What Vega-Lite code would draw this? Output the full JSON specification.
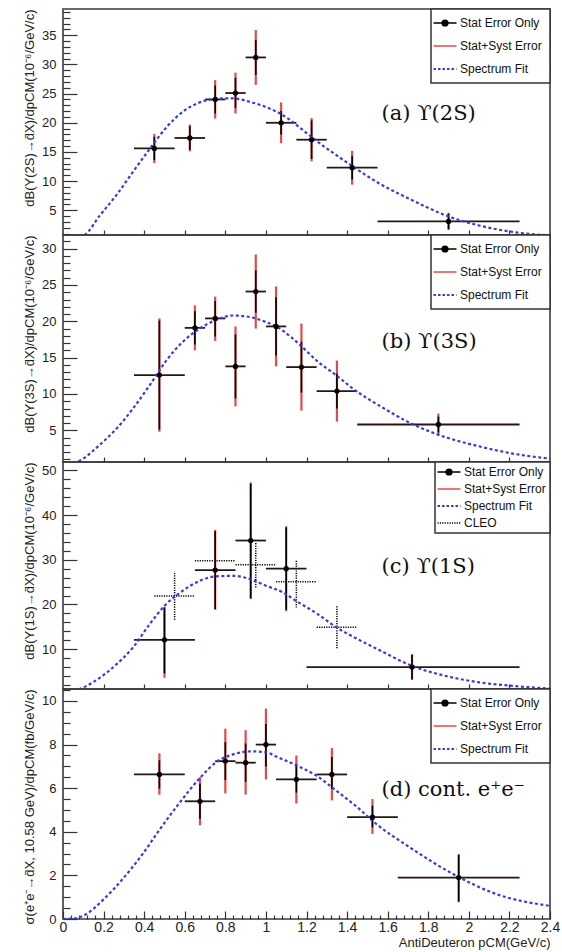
{
  "$schema": "https://vega.github.io/schema/vega-lite/v6.json",
  "background": "white",
  "padding": {"left": 22, "top": 7, "right": 11, "bottom": 0},
  "spacing": 0,
  "bounds": "flush",
  "config": {
    "view": {"stroke": "#3a3a3a", "strokeWidth": 1.6},
    "axis": {"grid": false, "domain": false, "labelFont": "Liberation Sans", "titleFont": "Liberation Sans", "labelColor": "#222", "titleColor": "#222", "tickColor": "#333", "tickWidth": 1.2, "titleFontWeight": "normal", "labelFontSize": 13, "titleFontSize": 13, "labelOverlap": false, "labelFlush": false}
  },
  "resolve": {"scale": {"stroke": "independent"}, "legend": {"stroke": "independent"}},
  "datasets": {
    "a_pts": [
      {"x": 0.45, "xlo": 0.35, "xhi": 0.55, "y": 15.6, "stat_lo": 13.6, "stat_hi": 17.6, "tot_lo": 13.1, "tot_hi": 18.1},
      {"x": 0.625, "xlo": 0.55, "xhi": 0.7, "y": 17.4, "stat_lo": 15.4, "stat_hi": 19.4, "tot_lo": 15.1, "tot_hi": 19.7},
      {"x": 0.75, "xlo": 0.7, "xhi": 0.8, "y": 24.0, "stat_lo": 21.6, "stat_hi": 26.4, "tot_lo": 20.7, "tot_hi": 27.3},
      {"x": 0.85, "xlo": 0.8, "xhi": 0.9, "y": 25.1, "stat_lo": 22.5, "stat_hi": 27.7, "tot_lo": 21.6, "tot_hi": 28.6},
      {"x": 0.95, "xlo": 0.9, "xhi": 1.0, "y": 31.2, "stat_lo": 28.2, "stat_hi": 34.2, "tot_lo": 26.5, "tot_hi": 35.9},
      {"x": 1.075, "xlo": 1.0, "xhi": 1.15, "y": 20.0, "stat_lo": 18.0, "stat_hi": 22.0, "tot_lo": 16.5, "tot_hi": 23.5},
      {"x": 1.225, "xlo": 1.15, "xhi": 1.3, "y": 17.1, "stat_lo": 13.8, "stat_hi": 20.4, "tot_lo": 13.4, "tot_hi": 20.8},
      {"x": 1.425, "xlo": 1.3, "xhi": 1.55, "y": 12.3, "stat_lo": 10.3, "stat_hi": 14.3, "tot_lo": 9.4, "tot_hi": 15.2},
      {"x": 1.9, "xlo": 1.55, "xhi": 2.25, "y": 3.1, "stat_lo": 1.8, "stat_hi": 4.4, "tot_lo": 1.6, "tot_hi": 4.6}
    ],
    "a_fit": [
      {"x": 0, "y": 0}, {"x": 0.05, "y": 0.2}, {"x": 0.107, "y": 0.8}, {"x": 0.181, "y": 4.1}, {"x": 0.263, "y": 7.6}, {"x": 0.345, "y": 11.6}, {"x": 0.427, "y": 15.5}, {"x": 0.509, "y": 19.2}, {"x": 0.591, "y": 21.9}, {"x": 0.674, "y": 23.5}, {"x": 0.755, "y": 24.1}, {"x": 0.83, "y": 24.2}, {"x": 0.92, "y": 23.6}, {"x": 1.0, "y": 22.7}, {"x": 1.084, "y": 21.3}, {"x": 1.166, "y": 19.2}, {"x": 1.231, "y": 17.4}, {"x": 1.395, "y": 13.3}, {"x": 1.559, "y": 9.6}, {"x": 1.723, "y": 6.7}, {"x": 1.888, "y": 4.1}, {"x": 2.05, "y": 2.4}, {"x": 2.216, "y": 1.3}, {"x": 2.4, "y": 0.7}
    ],
    "b_pts": [
      {"x": 0.475, "xlo": 0.35, "xhi": 0.6, "y": 12.6, "stat_lo": 5.1, "stat_hi": 20.1, "tot_lo": 4.8, "tot_hi": 20.4},
      {"x": 0.65, "xlo": 0.6, "xhi": 0.7, "y": 19.1, "stat_lo": 16.8, "stat_hi": 21.4, "tot_lo": 16.0, "tot_hi": 22.2},
      {"x": 0.75, "xlo": 0.7, "xhi": 0.8, "y": 20.4, "stat_lo": 17.9, "stat_hi": 22.8, "tot_lo": 17.3, "tot_hi": 23.4},
      {"x": 0.85, "xlo": 0.8, "xhi": 0.9, "y": 13.8, "stat_lo": 9.4, "stat_hi": 18.2, "tot_lo": 8.3, "tot_hi": 19.3},
      {"x": 0.95, "xlo": 0.9, "xhi": 1.0, "y": 24.1, "stat_lo": 21.2, "stat_hi": 27.0, "tot_lo": 19.0, "tot_hi": 29.2},
      {"x": 1.05, "xlo": 1.0, "xhi": 1.1, "y": 19.3, "stat_lo": 15.3, "stat_hi": 23.3, "tot_lo": 13.8, "tot_hi": 24.8},
      {"x": 1.175, "xlo": 1.1, "xhi": 1.25, "y": 13.7, "stat_lo": 10.2, "stat_hi": 17.2, "tot_lo": 7.7, "tot_hi": 19.7},
      {"x": 1.35, "xlo": 1.25, "xhi": 1.45, "y": 10.4, "stat_lo": 8.0, "stat_hi": 12.8, "tot_lo": 6.2, "tot_hi": 14.6},
      {"x": 1.85, "xlo": 1.45, "xhi": 2.25, "y": 5.8, "stat_lo": 4.7, "stat_hi": 6.9, "tot_lo": 4.3, "tot_hi": 7.3}
    ],
    "b_fit": [
      {"x": 0, "y": 0}, {"x": 0.082, "y": 0.8}, {"x": 0.181, "y": 3.0}, {"x": 0.263, "y": 5.2}, {"x": 0.345, "y": 8.0}, {"x": 0.427, "y": 11.2}, {"x": 0.509, "y": 14.6}, {"x": 0.591, "y": 17.2}, {"x": 0.674, "y": 19.0}, {"x": 0.755, "y": 20.2}, {"x": 0.838, "y": 20.8}, {"x": 0.92, "y": 20.6}, {"x": 1.0, "y": 19.9}, {"x": 1.05, "y": 19.3}, {"x": 1.084, "y": 18.7}, {"x": 1.166, "y": 16.8}, {"x": 1.25, "y": 14.6}, {"x": 1.35, "y": 12.5}, {"x": 1.445, "y": 10.4}, {"x": 1.559, "y": 8.4}, {"x": 1.69, "y": 6.3}, {"x": 1.849, "y": 4.4}, {"x": 2.05, "y": 2.8}, {"x": 2.216, "y": 1.8}, {"x": 2.4, "y": 1.1}
    ],
    "c_pts": [
      {"x": 0.5, "xlo": 0.35, "xhi": 0.65, "y": 12.1, "stat_lo": 4.6, "stat_hi": 19.3, "tot_lo": 3.6, "tot_hi": 19.5},
      {"x": 0.75, "xlo": 0.65, "xhi": 0.85, "y": 27.7, "stat_lo": 19.0, "stat_hi": 36.4, "tot_lo": 18.8, "tot_hi": 36.7},
      {"x": 0.925, "xlo": 0.85, "xhi": 1.0, "y": 34.3, "stat_lo": 21.4, "stat_hi": 47.0, "tot_lo": 21.2, "tot_hi": 47.3},
      {"x": 1.1, "xlo": 1.0, "xhi": 1.2, "y": 28.0, "stat_lo": 18.8, "stat_hi": 37.2, "tot_lo": 18.5, "tot_hi": 37.5},
      {"x": 1.72, "xlo": 1.2, "xhi": 2.25, "y": 6.0, "stat_lo": 3.3, "stat_hi": 8.7, "tot_lo": 3.1, "tot_hi": 8.9}
    ],
    "c_cleo": [
      {"x": 0.55, "xlo": 0.45, "xhi": 0.65, "y": 21.9, "lo": 16.6, "hi": 27.4},
      {"x": 0.75, "xlo": 0.65, "xhi": 0.85, "y": 29.8, "lo": 25.0, "hi": 34.6},
      {"x": 0.95, "xlo": 0.85, "xhi": 1.05, "y": 28.9, "lo": 23.8, "hi": 33.9},
      {"x": 1.15, "xlo": 1.05, "xhi": 1.25, "y": 25.1, "lo": 19.3, "hi": 29.8},
      {"x": 1.35, "xlo": 1.25, "xhi": 1.45, "y": 14.9, "lo": 10.2, "hi": 19.7}
    ],
    "c_fit": [
      {"x": 0, "y": 0}, {"x": 0.098, "y": 1.4}, {"x": 0.181, "y": 3.6}, {"x": 0.263, "y": 6.6}, {"x": 0.345, "y": 10.4}, {"x": 0.427, "y": 15.6}, {"x": 0.509, "y": 20.1}, {"x": 0.591, "y": 23.1}, {"x": 0.674, "y": 25.3}, {"x": 0.755, "y": 26.3}, {"x": 0.838, "y": 26.4}, {"x": 0.92, "y": 25.7}, {"x": 1.0, "y": 24.2}, {"x": 1.084, "y": 22.7}, {"x": 1.149, "y": 20.8}, {"x": 1.25, "y": 18.0}, {"x": 1.347, "y": 14.9}, {"x": 1.45, "y": 12.3}, {"x": 1.559, "y": 9.8}, {"x": 1.723, "y": 6.2}, {"x": 1.888, "y": 4.0}, {"x": 2.05, "y": 2.6}, {"x": 2.216, "y": 1.8}, {"x": 2.4, "y": 1.2}
    ],
    "d_pts": [
      {"x": 0.475, "xlo": 0.35, "xhi": 0.6, "y": 6.63, "stat_lo": 5.98, "stat_hi": 7.28, "tot_lo": 5.7, "tot_hi": 7.6},
      {"x": 0.675, "xlo": 0.6, "xhi": 0.75, "y": 5.4, "stat_lo": 4.6, "stat_hi": 6.2, "tot_lo": 4.3, "tot_hi": 6.5},
      {"x": 0.8, "xlo": 0.75, "xhi": 0.85, "y": 7.24, "stat_lo": 6.37, "stat_hi": 8.12, "tot_lo": 5.76, "tot_hi": 8.73},
      {"x": 0.9, "xlo": 0.85, "xhi": 0.95, "y": 7.17, "stat_lo": 6.29, "stat_hi": 8.05, "tot_lo": 5.71, "tot_hi": 8.66},
      {"x": 1.0, "xlo": 0.95, "xhi": 1.05, "y": 8.0, "stat_lo": 7.0, "stat_hi": 8.95, "tot_lo": 6.4, "tot_hi": 9.65},
      {"x": 1.15, "xlo": 1.05, "xhi": 1.25, "y": 6.4, "stat_lo": 5.8, "stat_hi": 7.1, "tot_lo": 5.3, "tot_hi": 7.5},
      {"x": 1.325, "xlo": 1.25, "xhi": 1.4, "y": 6.63, "stat_lo": 5.97, "stat_hi": 7.43, "tot_lo": 5.44, "tot_hi": 7.84},
      {"x": 1.525, "xlo": 1.4, "xhi": 1.65, "y": 4.67, "stat_lo": 4.2, "stat_hi": 5.2, "tot_lo": 3.9, "tot_hi": 5.5},
      {"x": 1.95, "xlo": 1.65, "xhi": 2.25, "y": 1.9, "stat_lo": 0.8, "stat_hi": 2.95, "tot_lo": 0.77, "tot_hi": 2.97}
    ],
    "d_fit": [
      {"x": 0, "y": 0}, {"x": 0.05, "y": 0.02}, {"x": 0.1, "y": 0.15}, {"x": 0.2, "y": 0.9}, {"x": 0.3, "y": 1.9}, {"x": 0.394, "y": 3.0}, {"x": 0.476, "y": 4.1}, {"x": 0.558, "y": 5.13}, {"x": 0.673, "y": 6.45}, {"x": 0.756, "y": 7.2}, {"x": 0.838, "y": 7.55}, {"x": 0.93, "y": 7.69}, {"x": 1.0, "y": 7.65}, {"x": 1.051, "y": 7.45}, {"x": 1.15, "y": 7.05}, {"x": 1.248, "y": 6.58}, {"x": 1.346, "y": 5.89}, {"x": 1.46, "y": 5.05}, {"x": 1.526, "y": 4.5}, {"x": 1.723, "y": 3.2}, {"x": 1.945, "y": 1.95}, {"x": 2.134, "y": 1.15}, {"x": 2.4, "y": 0.6}
    ]
  },
  "vconcat": [
    {
      "width": 487, "height": 226,
      "resolve": {"axis": {"x": "independent", "y": "independent"}},
      "layer": [
        {"data": {"name": "a_pts"}, "mark": {"type": "rule", "strokeWidth": 2.2, "clip": true},
         "encoding": {
           "x": {"field": "x", "type": "quantitative", "scale": {"domain": [0, 2.4], "nice": false, "zero": false},
                 "axis": {"orient": "bottom", "offset": -5, "tickSize": 5, "values": [0.2, 0.4, 0.6, 0.8, 1, 1.2, 1.4, 1.6, 1.8, 2, 2.2], "labels": false, "title": null}},
           "y": {"field": "tot_lo", "type": "quantitative", "scale": {"domain": [0.77, 39.5], "nice": false, "zero": false},
                 "axis": {"orient": "left", "offset": -14, "tickSize": 14, "values": [5, 10, 15, 20, 25, 30, 35], "labelPadding": 7,
                          "title": "dB(Υ(2S)→d̄X)/dpCM(10⁻⁶/GeV/c)", "titleAnchor": "end", "titlePadding": 5}},
           "y2": {"field": "tot_hi"},
           "stroke": {"datum": "Stat+Syst Error",
                      "scale": {"domain": ["Stat Error Only", "Stat+Syst Error", "Spectrum Fit"], "range": ["#000000", "#e34a4a", "#3b3bdc"]},
                      "legend": {"title": null, "orient": "top-right", "offset": 0, "padding": 8, "fillColor": "white", "strokeColor": "#333",
                                 "labelFont": "Liberation Sans", "labelFontSize": 12, "labelColor": "#111",
                                 "symbolType": "M-2,0H2", "symbolSize": 132, "symbolStrokeWidth": 1.5, "symbolOffset": 0, "labelOffset": 9, "rowPadding": 11,
                                 "encode": {
                                   "legend": {"update": {"strokeWidth": {"value": 1.5}}},
                                   "symbols": {"update": {
                                     "shape": {"signal": "datum.value === 'Stat Error Only' ? 'M-2,0H2M-0.5,0A0.5,0.5,0,1,1,0.5,0A0.5,0.5,0,1,1,-0.5,0' : 'M-2,0H2'"},
                                     "fill": {"signal": "datum.value === 'Stat Error Only' ? '#000' : 'transparent'"},
                                     "strokeDash": {"signal": "datum.value === 'Spectrum Fit' ? [2.5, 2] : datum.value === 'CLEO' ? [1.2, 1.2] : []"},
                                     "strokeWidth": {"signal": "datum.value === 'Spectrum Fit' ? 2 : 1.5"}
                                   }}
                                 }}}
         }},
        {"data": {"name": "a_pts"}, "mark": {"type": "rule", "strokeWidth": 1.8, "color": "#2b1414", "clip": true},
         "encoding": {"x": {"field": "xlo", "type": "quantitative", "axis": null}, "x2": {"field": "xhi"}, "y": {"field": "y", "type": "quantitative", "axis": null}}},
        {"data": {"name": "a_pts"}, "mark": {"type": "rule", "strokeWidth": 1.6, "clip": true},
         "encoding": {"x": {"field": "x", "type": "quantitative", "axis": null}, "y": {"field": "stat_lo", "type": "quantitative", "axis": null}, "y2": {"field": "stat_hi"}, "stroke": {"datum": "Stat Error Only"}}},
        {"data": {"name": "a_fit"}, "mark": {"type": "line", "strokeDash": [3, 2.5], "strokeWidth": 2.2, "interpolate": "monotone", "clip": true},
         "encoding": {"x": {"field": "x", "type": "quantitative", "axis": null}, "y": {"field": "y", "type": "quantitative", "axis": null}, "stroke": {"datum": "Spectrum Fit"}}},
        {"data": {"name": "a_pts"}, "mark": {"type": "point", "shape": "circle", "filled": true, "size": 28, "color": "#000", "opacity": 1},
         "encoding": {"x": {"field": "x", "type": "quantitative", "axis": null},
                      "y": {"field": "y", "type": "quantitative",
                            "axis": {"orient": "left", "offset": -7, "tickSize": 7, "labels": false, "title": null,
                                     "values": [1,2,3,4,6,7,8,9,11,12,13,14,16,17,18,19,21,22,23,24,26,27,28,29,31,32,33,34,36,37,38,39]}}}},
        {"data": {"values": [{}]}, "mark": {"type": "text", "font": "DejaVu Serif", "fontSize": 21, "align": "left", "baseline": "middle", "color": "#111"},
         "encoding": {"x": {"datum": 1.57, "axis": null}, "y": {"datum": 21.5, "axis": null}, "text": {"value": "(a) ϒ(2S)"}}}
      ]
    },
    {
      "width": 487, "height": 227,
      "resolve": {"axis": {"x": "independent", "y": "independent"}},
      "layer": [
        {"data": {"name": "b_pts"}, "mark": {"type": "rule", "strokeWidth": 2.2, "clip": true},
         "encoding": {
           "x": {"field": "x", "type": "quantitative", "scale": {"domain": [0, 2.4], "nice": false, "zero": false},
                 "axis": {"orient": "bottom", "offset": -5, "tickSize": 5, "values": [0.2, 0.4, 0.6, 0.8, 1, 1.2, 1.4, 1.6, 1.8, 2, 2.2], "labels": false, "title": null}},
           "y": {"field": "tot_lo", "type": "quantitative", "scale": {"domain": [0.64, 31.88], "nice": false, "zero": false},
                 "axis": {"orient": "left", "offset": -14, "tickSize": 14, "values": [5, 10, 15, 20, 25, 30], "labelPadding": 7,
                          "title": "dB(Υ(3S)→d̄X)/dpCM(10⁻⁶/GeV/c)", "titleAnchor": "end", "titlePadding": 5}},
           "y2": {"field": "tot_hi"},
           "stroke": {"datum": "Stat+Syst Error",
                      "scale": {"domain": ["Stat Error Only", "Stat+Syst Error", "Spectrum Fit"], "range": ["#000000", "#e34a4a", "#3b3bdc"]},
                      "legend": {"title": null, "orient": "top-right", "offset": 0, "padding": 8, "fillColor": "white", "strokeColor": "#333",
                                 "labelFont": "Liberation Sans", "labelFontSize": 12, "labelColor": "#111",
                                 "symbolType": "M-2,0H2", "symbolSize": 132, "symbolStrokeWidth": 1.5, "symbolOffset": 0, "labelOffset": 9, "rowPadding": 11,
                                 "encode": {
                                   "legend": {"update": {"strokeWidth": {"value": 1.5}}},
                                   "symbols": {"update": {
                                     "shape": {"signal": "datum.value === 'Stat Error Only' ? 'M-2,0H2M-0.5,0A0.5,0.5,0,1,1,0.5,0A0.5,0.5,0,1,1,-0.5,0' : 'M-2,0H2'"},
                                     "fill": {"signal": "datum.value === 'Stat Error Only' ? '#000' : 'transparent'"},
                                     "strokeDash": {"signal": "datum.value === 'Spectrum Fit' ? [2.5, 2] : datum.value === 'CLEO' ? [1.2, 1.2] : []"},
                                     "strokeWidth": {"signal": "datum.value === 'Spectrum Fit' ? 2 : 1.5"}
                                   }}
                                 }}}
         }},
        {"data": {"name": "b_pts"}, "mark": {"type": "rule", "strokeWidth": 1.8, "color": "#2b1414", "clip": true},
         "encoding": {"x": {"field": "xlo", "type": "quantitative", "axis": null}, "x2": {"field": "xhi"}, "y": {"field": "y", "type": "quantitative", "axis": null}}},
        {"data": {"name": "b_pts"}, "mark": {"type": "rule", "strokeWidth": 1.6, "clip": true},
         "encoding": {"x": {"field": "x", "type": "quantitative", "axis": null}, "y": {"field": "stat_lo", "type": "quantitative", "axis": null}, "y2": {"field": "stat_hi"}, "stroke": {"datum": "Stat Error Only"}}},
        {"data": {"name": "b_fit"}, "mark": {"type": "line", "strokeDash": [3, 2.5], "strokeWidth": 2.2, "interpolate": "monotone", "clip": true},
         "encoding": {"x": {"field": "x", "type": "quantitative", "axis": null}, "y": {"field": "y", "type": "quantitative", "axis": null}, "stroke": {"datum": "Spectrum Fit"}}},
        {"data": {"name": "b_pts"}, "mark": {"type": "point", "shape": "circle", "filled": true, "size": 28, "color": "#000", "opacity": 1},
         "encoding": {"x": {"field": "x", "type": "quantitative", "axis": null},
                      "y": {"field": "y", "type": "quantitative",
                            "axis": {"orient": "left", "offset": -7, "tickSize": 7, "labels": false, "title": null,
                                     "values": [1,2,3,4,6,7,8,9,11,12,13,14,16,17,18,19,21,22,23,24,26,27,28,29,31]}}}},
        {"data": {"values": [{}]}, "mark": {"type": "text", "font": "DejaVu Serif", "fontSize": 21, "align": "left", "baseline": "middle", "color": "#111"},
         "encoding": {"x": {"datum": 1.57, "axis": null}, "y": {"datum": 17.17, "axis": null}, "text": {"value": "(b) ϒ(3S)"}}}
      ]
    },
    {
      "width": 487, "height": 227,
      "resolve": {"axis": {"x": "independent", "y": "independent"}},
      "layer": [
        {"data": {"name": "c_cleo"}, "mark": {"type": "rule", "strokeWidth": 1.5, "strokeDash": [1.2, 1.2], "clip": true},
         "encoding": {
           "x": {"field": "xlo", "type": "quantitative", "scale": {"domain": [0, 2.4], "nice": false, "zero": false},
                 "axis": {"orient": "bottom", "offset": -5, "tickSize": 5, "values": [0.2, 0.4, 0.6, 0.8, 1, 1.2, 1.4, 1.6, 1.8, 2, 2.2], "labels": false, "title": null}},
           "x2": {"field": "xhi"},
           "y": {"field": "y", "type": "quantitative", "scale": {"domain": [1.1, 51.86], "nice": false, "zero": false},
                 "axis": {"orient": "left", "offset": -14, "tickSize": 14, "values": [10, 20, 30, 40, 50], "labelPadding": 7,
                          "title": "dB(Υ(1S)→d̄X)/dpCM(10⁻⁶/GeV/c)", "titleAnchor": "end", "titlePadding": 5}},
           "stroke": {"datum": "CLEO",
                      "scale": {"domain": ["Stat Error Only", "Stat+Syst Error", "Spectrum Fit", "CLEO"], "range": ["#000000", "#e34a4a", "#3b3bdc", "#000000"]},
                      "legend": {"title": null, "orient": "top-right", "offset": 0, "padding": 4, "fillColor": "white", "strokeColor": "#333",
                                 "labelFont": "Liberation Sans", "labelFontSize": 12, "labelColor": "#111",
                                 "symbolType": "M-2,0H2", "symbolSize": 132, "symbolStrokeWidth": 1.5, "symbolOffset": 4, "labelOffset": 9, "rowPadding": 5,
                                 "encode": {
                                   "legend": {"update": {"strokeWidth": {"value": 1.5}}},
                                   "symbols": {"update": {
                                     "shape": {"signal": "datum.value === 'Stat Error Only' ? 'M-2,0H2M-0.5,0A0.5,0.5,0,1,1,0.5,0A0.5,0.5,0,1,1,-0.5,0' : 'M-2,0H2'"},
                                     "fill": {"signal": "datum.value === 'Stat Error Only' ? '#000' : 'transparent'"},
                                     "strokeDash": {"signal": "datum.value === 'Spectrum Fit' ? [2.5, 2] : datum.value === 'CLEO' ? [1.2, 1.2] : []"},
                                     "strokeWidth": {"signal": "datum.value === 'Spectrum Fit' ? 2 : 1.5"}
                                   }}
                                 }}}
         }},
        {"data": {"name": "c_cleo"}, "mark": {"type": "rule", "strokeWidth": 1.5, "strokeDash": [1.2, 1.2], "clip": true},
         "encoding": {"x": {"field": "x", "type": "quantitative", "axis": null}, "y": {"field": "lo", "type": "quantitative", "axis": null}, "y2": {"field": "hi"}, "stroke": {"datum": "CLEO"}}},
        {"data": {"name": "c_pts"}, "mark": {"type": "rule", "strokeWidth": 2.2, "clip": true},
         "encoding": {"x": {"field": "x", "type": "quantitative", "axis": null}, "y": {"field": "tot_lo", "type": "quantitative", "axis": null}, "y2": {"field": "tot_hi"}, "stroke": {"datum": "Stat+Syst Error"}}},
        {"data": {"name": "c_pts"}, "mark": {"type": "rule", "strokeWidth": 1.8, "color": "#2b1414", "clip": true},
         "encoding": {"x": {"field": "xlo", "type": "quantitative", "axis": null}, "x2": {"field": "xhi"}, "y": {"field": "y", "type": "quantitative", "axis": null}}},
        {"data": {"name": "c_pts"}, "mark": {"type": "rule", "strokeWidth": 1.6, "clip": true},
         "encoding": {"x": {"field": "x", "type": "quantitative", "axis": null}, "y": {"field": "stat_lo", "type": "quantitative", "axis": null}, "y2": {"field": "stat_hi"}, "stroke": {"datum": "Stat Error Only"}}},
        {"data": {"name": "c_fit"}, "mark": {"type": "line", "strokeDash": [3, 2.5], "strokeWidth": 2.2, "interpolate": "monotone", "clip": true},
         "encoding": {"x": {"field": "x", "type": "quantitative", "axis": null}, "y": {"field": "y", "type": "quantitative", "axis": null}, "stroke": {"datum": "Spectrum Fit"}}},
        {"data": {"name": "c_pts"}, "mark": {"type": "point", "shape": "circle", "filled": true, "size": 28, "color": "#000", "opacity": 1},
         "encoding": {"x": {"field": "x", "type": "quantitative", "axis": null},
                      "y": {"field": "y", "type": "quantitative",
                            "axis": {"orient": "left", "offset": -7, "tickSize": 7, "labels": false, "title": null,
                                     "values": [2,4,6,8,12,14,16,18,22,24,26,28,32,34,36,38,42,44,46,48]}}}},
        {"data": {"values": [{}]}, "mark": {"type": "text", "font": "DejaVu Serif", "fontSize": 21, "align": "left", "baseline": "middle", "color": "#111"},
         "encoding": {"x": {"datum": 1.57, "axis": null}, "y": {"datum": 28.3, "axis": null}, "text": {"value": "(c) ϒ(1S)"}}}
      ]
    },
    {
      "width": 487, "height": 230,
      "resolve": {"axis": {"x": "independent", "y": "independent"}},
      "layer": [
        {"data": {"name": "d_pts"}, "mark": {"type": "rule", "strokeWidth": 2.2, "clip": true},
         "encoding": {
           "x": {"field": "x", "type": "quantitative", "scale": {"domain": [0, 2.4], "nice": false, "zero": false},
                 "axis": {"orient": "bottom", "offset": -8, "tickSize": 8, "values": [0, 0.2, 0.4, 0.6, 0.8, 1, 1.2, 1.4, 1.6, 1.8, 2, 2.2, 2.4],
                          "labelExpr": "format(datum.value, '~g')", "labelPadding": 1, "labelFontSize": 14,
                          "title": "AntiDeuteron pCM(GeV/c)", "titleAnchor": "end", "titleFontSize": 13, "titlePadding": 2}},
           "y": {"field": "tot_lo", "type": "quantitative", "scale": {"domain": [0, 10.55], "nice": false, "zero": false},
                 "axis": {"orient": "left", "offset": -14, "tickSize": 14, "values": [0, 2, 4, 6, 8, 10], "labelPadding": 7,
                          "title": "σ(e⁺e⁻→d̄X, 10.58 GeV)/dpCM(fb/GeV/c)", "titleAnchor": "end", "titlePadding": 5}},
           "y2": {"field": "tot_hi"},
           "stroke": {"datum": "Stat+Syst Error",
                      "scale": {"domain": ["Stat Error Only", "Stat+Syst Error", "Spectrum Fit"], "range": ["#000000", "#e34a4a", "#3b3bdc"]},
                      "legend": {"title": null, "orient": "top-right", "offset": 0, "padding": 8, "fillColor": "white", "strokeColor": "#333",
                                 "labelFont": "Liberation Sans", "labelFontSize": 12, "labelColor": "#111",
                                 "symbolType": "M-2,0H2", "symbolSize": 132, "symbolStrokeWidth": 1.5, "symbolOffset": 0, "labelOffset": 9, "rowPadding": 11,
                                 "encode": {
                                   "legend": {"update": {"strokeWidth": {"value": 1.5}}},
                                   "symbols": {"update": {
                                     "shape": {"signal": "datum.value === 'Stat Error Only' ? 'M-2,0H2M-0.5,0A0.5,0.5,0,1,1,0.5,0A0.5,0.5,0,1,1,-0.5,0' : 'M-2,0H2'"},
                                     "fill": {"signal": "datum.value === 'Stat Error Only' ? '#000' : 'transparent'"},
                                     "strokeDash": {"signal": "datum.value === 'Spectrum Fit' ? [2.5, 2] : datum.value === 'CLEO' ? [1.2, 1.2] : []"},
                                     "strokeWidth": {"signal": "datum.value === 'Spectrum Fit' ? 2 : 1.5"}
                                   }}
                                 }}}
         }},
        {"data": {"name": "d_pts"}, "mark": {"type": "rule", "strokeWidth": 1.8, "color": "#2b1414", "clip": true},
         "encoding": {"x": {"field": "xlo", "type": "quantitative", "axis": null}, "x2": {"field": "xhi"}, "y": {"field": "y", "type": "quantitative", "axis": null}}},
        {"data": {"name": "d_pts"}, "mark": {"type": "rule", "strokeWidth": 1.6, "clip": true},
         "encoding": {"x": {"field": "x", "type": "quantitative", "axis": null}, "y": {"field": "stat_lo", "type": "quantitative", "axis": null}, "y2": {"field": "stat_hi"}, "stroke": {"datum": "Stat Error Only"}}},
        {"data": {"name": "d_fit"}, "mark": {"type": "line", "strokeDash": [3, 2.5], "strokeWidth": 2.2, "interpolate": "monotone", "clip": true},
         "encoding": {"x": {"field": "x", "type": "quantitative", "axis": null}, "y": {"field": "y", "type": "quantitative", "axis": null}, "stroke": {"datum": "Spectrum Fit"}}},
        {"data": {"name": "d_pts"}, "mark": {"type": "point", "shape": "circle", "filled": true, "size": 28, "color": "#000", "opacity": 1},
         "encoding": {"x": {"field": "x", "type": "quantitative",
                            "axis": {"orient": "bottom", "offset": -4, "tickSize": 4, "labels": false, "title": null,
                                     "values": [0.04,0.08,0.12,0.16,0.24,0.28,0.32,0.36,0.44,0.48,0.52,0.56,0.64,0.68,0.72,0.76,0.84,0.88,0.92,0.96,1.04,1.08,1.12,1.16,1.24,1.28,1.32,1.36,1.44,1.48,1.52,1.56,1.64,1.68,1.72,1.76,1.84,1.88,1.92,1.96,2.04,2.08,2.12,2.16,2.24,2.28,2.32,2.36]}},
                      "y": {"field": "y", "type": "quantitative",
                            "axis": {"orient": "left", "offset": -7, "tickSize": 7, "labels": false, "title": null,
                                     "values": [0.5,1,1.5,2.5,3,3.5,4.5,5,5.5,6.5,7,7.5,8.5,9,9.5,10.5]}}}},
        {"data": {"values": [{}]}, "mark": {"type": "text", "font": "DejaVu Serif", "fontSize": 21, "align": "left", "baseline": "middle", "color": "#111"},
         "encoding": {"x": {"datum": 1.57, "axis": null}, "y": {"datum": 5.91, "axis": null}, "text": {"value": "(d) cont. e⁺e⁻"}}}
      ]
    }
  ]
}
